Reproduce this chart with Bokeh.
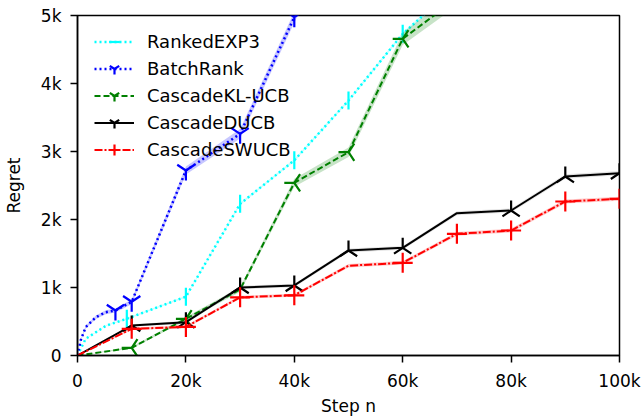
import numpy as np
from bokeh.plotting import figure
from bokeh.models import Range1d, FixedTicker, Legend, LegendItem
from bokeh.embed import file_html
from bokeh.resources import INLINE

# ---- data ----
x_ticks = [0, 20000, 40000, 60000, 80000, 100000]
x_tick_labels = ["0", "20k", "40k", "60k", "80k", "100k"]
y_ticks = [0, 1000, 2000, 3000, 4000, 5000]
y_tick_labels = ["0", "1k", "2k", "3k", "4k", "5k"]

exp3_n = [0, 1500, 5300, 9100, 20000, 30000, 40000, 50000, 60000, 70000]
exp3_regret = [0, 245, 440, 540, 865, 2230, 2870, 3750, 4730, 5450]
exp3_std = [0, 5, 8, 10, 12, 15, 18, 20, 22, 25]
exp3_marks = [3, 4, 5, 6, 7, 8]

batch_n = [0, 600, 1500, 3400, 5200, 7000, 10000, 20000, 30000, 40000, 50000]
batch_regret = [0, 225, 416, 563, 637, 662, 790, 2720, 3260, 4975, 6600]
batch_std = [0, 15, 20, 25, 30, 30, 35, 60, 70, 80, 90]
batch_marks = [5, 6, 7, 8, 9]

kl_n = [0, 10000, 20000, 30000, 40000, 50000, 60000, 70000]
kl_regret = [0, 113, 540, 970, 2540, 2990, 4657, 5250]
kl_std = [0, 15, 25, 35, 60, 70, 90, 110]
kl_marks = [1, 2, 4, 5, 6]

ducb_n = [0, 10000, 20000, 30000, 40000, 50000, 60000, 70000, 80000, 90000, 100000]
ducb_regret = [0, 441, 490, 1000, 1030, 1544, 1583, 2093, 2132, 2632, 2681]
ducb_std = [0, 20, 22, 25, 25, 28, 28, 30, 30, 32, 32]
ducb_marks = [1, 2, 3, 4, 5, 6, 8, 9, 10]

swucb_n = [0, 10000, 20000, 30000, 40000, 50000, 60000, 70000, 80000, 90000, 100000]
swucb_regret = [0, 392, 420, 855, 885, 1320, 1363, 1789, 1838, 2265, 2304]
swucb_std = [0, 18, 20, 22, 22, 25, 25, 28, 28, 30, 30]
swucb_marks = [1, 2, 3, 4, 6, 7, 8, 9, 10]

FONT = "DejaVu Sans"

p = figure(frame_width=542, frame_height=340, output_backend="svg", toolbar_location=None,
           x_range=Range1d(0, 100000), y_range=Range1d(0, 5000),
           min_border_left=76, min_border_right=26, min_border_top=15,
           min_border_bottom=65)
p.xgrid.visible = False
p.ygrid.visible = False
p.outline_line_color = "black"
p.outline_line_width = 1.5
p.background_fill_color = "white"
p.border_fill_color = "white"

for ax, ticks, labels in ((p.xaxis[0], x_ticks, x_tick_labels),
                          (p.yaxis[0], y_ticks, y_tick_labels)):
    ax.ticker = FixedTicker(ticks=ticks)
    ax.major_label_overrides = {t: l for t, l in zip(ticks, labels)}
    ax.minor_tick_line_color = None
    ax.major_tick_out = 7
    ax.major_tick_in = 0
    ax.major_tick_line_width = 1.5
    ax.axis_line_width = 1.5
    ax.major_label_text_font = FONT
    ax.major_label_text_font_size = "17px"
    ax.major_label_text_color = "black"
    ax.axis_label_text_font = FONT
    ax.axis_label_text_font_size = "17px"
    ax.axis_label_text_font_style = "normal"
    ax.axis_label_text_color = "black"

p.xaxis.major_label_standoff = 8
p.yaxis.major_label_standoff = 9
p.xaxis.axis_label = "Step n"
p.yaxis.axis_label = "Regret"
p.xaxis.axis_label_standoff = 2
p.yaxis.axis_label_standoff = 14


def series(n, r, s, marks, color, dash, width, marker, size, angle, band_color):
    lo = [a - b for a, b in zip(r, s)]
    hi = [a + b for a, b in zip(r, s)]
    p.varea(x=n, y1=lo, y2=hi, fill_color=band_color, fill_alpha=0.22)
    ln = p.line(n, r, line_color=color, line_width=width, line_dash=dash)
    mx = [n[i] for i in marks]
    my = [r[i] for i in marks]
    sc = p.scatter(mx, my, marker=marker, size=size, angle=angle,
                   line_color=color, line_width=2.2, fill_color=None)
    return [ln, sc]


r_exp3 = series(exp3_n, exp3_regret, exp3_std, exp3_marks, "cyan", "2 3", 2.5,
                "dash", 18, np.pi / 2, "cyan")
r_batch = series(batch_n, batch_regret, batch_std, batch_marks, "blue", "2 3", 2.5,
                 "y", 20, 0.0, "blue")
r_kl = series(kl_n, kl_regret, kl_std, kl_marks, "green", "6 3", 2,
              "y", 20, -np.pi / 2, "green")
r_ducb = series(ducb_n, ducb_regret, ducb_std, ducb_marks, "black", "solid", 2,
                "y", 20, np.pi, "gray")
r_sw = series(swucb_n, swucb_regret, swucb_std, swucb_marks, "red", "8 2 2 2", 2,
              "cross", 20, 0.0, "red")

legend = Legend(items=[
    LegendItem(label="RankedEXP3", renderers=r_exp3),
    LegendItem(label="BatchRank", renderers=r_batch),
    LegendItem(label="CascadeKL-UCB", renderers=r_kl),
    LegendItem(label="CascadeDUCB", renderers=r_ducb),
    LegendItem(label="CascadeSWUCB", renderers=r_sw),
], location=(17, 192))
legend.padding = 0
legend.margin = 0
legend.glyph_width = 40
legend.glyph_height = 27
legend.label_height = 27
legend.spacing = 0
legend.label_standoff = 13
legend.label_text_font = FONT
legend.label_text_font_size = "18px"
legend.label_text_color = "black"
legend.border_line_alpha = 0
legend.background_fill_alpha = 0
p.add_layout(legend, "center")

open("out.html", "w").write(file_html(p, INLINE))
